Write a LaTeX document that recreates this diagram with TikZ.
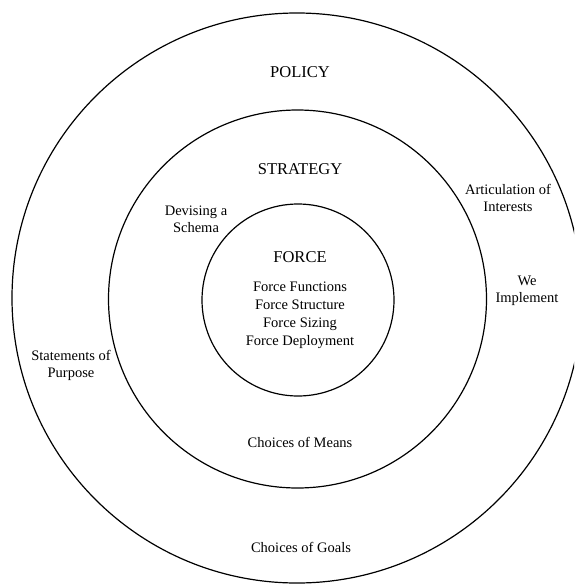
\documentclass[tikz,border=0pt]{standalone}
\usepackage{fontspec}
\setmainfont{Liberation Serif}
\begin{document}
\begin{tikzpicture}[x=1pt,y=-1pt,
  ring/.style={circle,draw=black,line width=1.2pt,inner sep=0pt},
  title/.style={font=\fontsize{16.5}{18}\selectfont,inner sep=0pt},
  lbl/.style={font=\fontsize{14.5}{17}\selectfont,align=center,inner sep=0pt}]
\useasboundingbox (0,0) rectangle (574,584);
\clip (0,0) rectangle (574,584);
\fill[white] (0,0) rectangle (574,584);
\node[ring,minimum size=570pt] (outer) at (297,298) {};
\node[ring,minimum size=378pt] (middle) at (297.5,299) {};
\node[ring,minimum size=192pt] (inner) at (298,300) {};
\node[title] (policy) at (300,72) {POLICY};
\node[title] (strategy) at (300,169) {STRATEGY};
\node[title] (force) at (300,257) {FORCE};
\node[lbl,font=\fontsize{14.5}{18}\selectfont] (forcelist) at (300,315)
  {Force Functions\\Force Structure\\Force Sizing\\Force Deployment};
\node[lbl] (devising) at (196,219) {Devising a\\Schema};
\node[lbl] (articulation) at (508,198) {Articulation of\\Interests};
\node[lbl] (implement) at (527,291) {We\\Implement};
\node[lbl] (statements) at (71,365) {Statements of\\Purpose};
\node[lbl] (means) at (300,442) {Choices of Means};
\node[lbl] (goals) at (301,547) {Choices of Goals};
\end{tikzpicture}
\end{document}
